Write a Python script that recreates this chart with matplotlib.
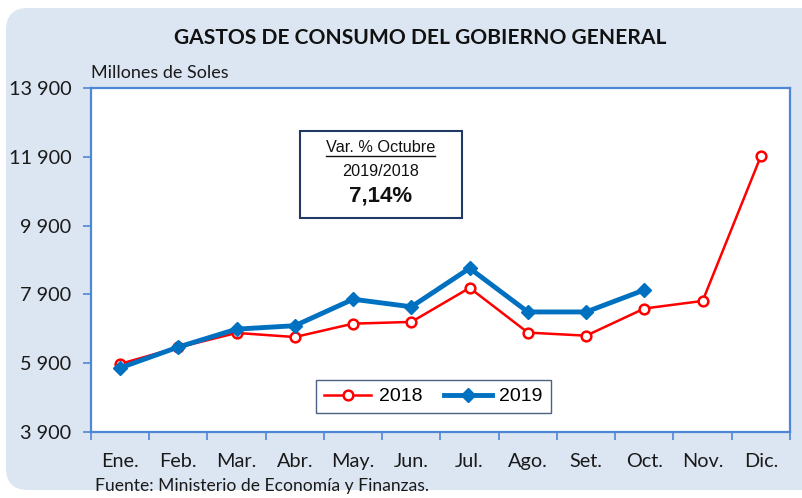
import matplotlib
matplotlib.use("Agg")
import matplotlib.pyplot as plt
from matplotlib.patches import FancyBboxPatch, Rectangle
from matplotlib.lines import Line2D

months = ["Ene.", "Feb.", "Mar.", "Abr.", "May.", "Jun.", "Jul.", "Ago.", "Set.", "Oct.", "Nov.", "Dic."]
s2018 = [5880, 6360, 6780, 6660, 7050, 7100, 8090, 6790, 6700, 7490, 7710, 11920]
s2019 = [5765, 6370, 6890, 6990, 7760, 7540, 8660, 7390, 7390, 8030]
yticks = [3900, 5900, 7900, 9900, 11900, 13900]
ytick_labels = ["3 900", "5 900", "7 900", "9 900", "11 900", "13 900"]

W, H = 803, 498
fig = plt.figure(figsize=(W / 100, H / 100), dpi=100)
fig.patch.set_facecolor("white")

bg = FancyBboxPatch((6, 8), 830, 482, boxstyle="round,pad=0,rounding_size=22",
                    transform=None, facecolor="#dce6f2", edgecolor="none", zorder=-10)
fig.patches.append(bg)

ax = fig.add_axes([91 / W, 1 - 432 / H, (790 - 91) / W, (432 - 88) / H])
ax.set_facecolor("white")
frame_c = "#4f86d6"
for sp in ax.spines.values():
    sp.set_color(frame_c)
    sp.set_linewidth(1.6)

x = list(range(len(months)))
ax.plot(x, s2018, color="#ff0000", lw=1.8, marker="o", ms=7, mfc="white",
        mec="#ff0000", mew=1.8, label="2018", zorder=3)
ax.plot(x[:len(s2019)], s2019, color="#0070c0", lw=3.5, marker="D", ms=7.5,
        mfc="#0070c0", mec="#0070c0", label="2019", zorder=4)

ax.set_xlim(-0.5, 11.5)
ax.set_ylim(3900, 13900)
ax.set_yticks(yticks)
ax.set_yticklabels(ytick_labels)
ax.set_xticks([i - 0.5 for i in range(13)])
ax.set_xticklabels([])
ax.set_xticks(x, minor=True)
ax.set_xticklabels(months, minor=True)
ax.tick_params(axis="x", which="major", length=6, color=frame_c, width=1.2, direction="out")
ax.tick_params(axis="x", which="minor", length=0, pad=15)
ax.tick_params(axis="y", length=6, color=frame_c, width=1.2, pad=8)
for lbl in ax.get_xticklabels(minor=True) + ax.get_yticklabels():
    lbl.set_fontfamily("Lato")
    lbl.set_fontsize(14.3)
    lbl.set_color("#1a1a1a")

leg = ax.legend(loc="upper left", bbox_to_anchor=((316 - 91) / 699, (432 - 380) / 344),
                ncol=2, frameon=True, fancybox=False, edgecolor="#1f3864",
                prop={"family": "Liberation Sans", "size": 14}, handlelength=2.45,
                columnspacing=1.1, borderpad=0.4, handletextpad=0.4, borderaxespad=0)
leg.get_frame().set_linewidth(1.0)

fig.text(420 / W, 1 - 38 / H, "GASTOS DE CONSUMO DEL GOBIERNO GENERAL", ha="center", va="center",
         fontfamily="Lato", fontweight="bold", fontsize=15.1, color="#111111")
fig.text(91 / W, 1 - 73 / H, "Millones de Soles", ha="left", va="center",
         fontfamily="Lato", fontsize=13, color="#1a1a1a")
fig.text(95 / W, 1 - 486 / H, "Fuente: Ministerio de Economía y Finanzas.", ha="left", va="center",
         fontfamily="Lato", fontsize=12.6, color="#1a1a1a")

box = Rectangle((300, H - 218), 162, 87, transform=None, facecolor="white",
                edgecolor="#1f3864", lw=1.5, zorder=5)
fig.patches.append(box)
fig.text(381 / W, 1 - 148 / H, "Var. % Octubre", ha="center", va="center",
         fontfamily="Liberation Sans", fontsize=11.7, color="#111111", zorder=6)
fig.lines.append(Line2D([326, 435], [H - 156, H - 156], transform=None, color="#111111", lw=1.0, zorder=6))
fig.text(381 / W, 1 - 171 / H, "2019/2018", ha="center", va="center",
         fontfamily="Liberation Sans", fontsize=11.7, color="#111111", zorder=6)
fig.text(381 / W, 1 - 196 / H, "7,14%", ha="center", va="center",
         fontfamily="Liberation Sans", fontweight="bold", fontsize=16, color="#111111", zorder=6)

fig.savefig("out.png", dpi=100)
